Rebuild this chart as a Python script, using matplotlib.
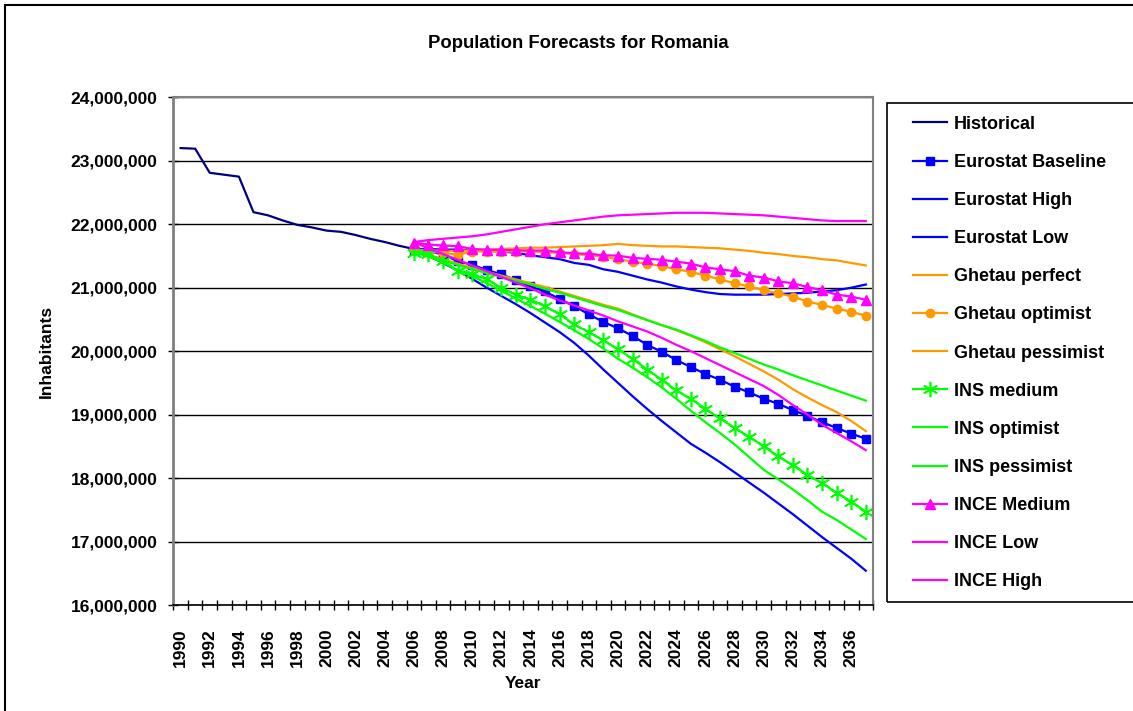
import matplotlib
matplotlib.use("Agg")
import matplotlib.pyplot as plt
from matplotlib.patches import Rectangle
from matplotlib.ticker import FuncFormatter, FixedLocator
import numpy as np

plt.rcParams['font.family'] = ['Liberation Sans', 'DejaVu Sans']
plt.rcParams['font.weight'] = 'bold'

# data (millions of inhabitants)
hist_years = np.arange(1990, 2007)
historical = [23.20, 23.19, 22.81, 22.78, 22.75, 22.19, 22.14, 22.06, 21.99,
              21.95, 21.90, 21.88, 21.83, 21.77, 21.72, 21.66, 21.61]

fc_years = np.arange(2006, 2038)
eurostat_base = [21.60, 21.58, 21.52, 21.42, 21.36, 21.28, 21.21, 21.12, 21.02, 20.94,
                 20.82, 20.71, 20.58, 20.46, 20.36, 20.24, 20.10, 19.99, 19.86, 19.75,
                 19.64, 19.55, 19.44, 19.35, 19.25, 19.17, 19.07, 18.98, 18.88, 18.79,
                 18.70, 18.62]
eurostat_high = [21.61, 21.61, 21.60, 21.60, 21.59, 21.58, 21.57, 21.55, 21.51, 21.48,
                 21.45, 21.39, 21.36, 21.29, 21.25, 21.19, 21.13, 21.08, 21.02, 20.97,
                 20.93, 20.90, 20.89, 20.89, 20.89, 20.90, 20.91, 20.92, 20.94, 20.96,
                 21.00, 21.05]
eurostat_low = [21.60, 21.50, 21.39, 21.27, 21.14, 21.00, 20.87, 20.74, 20.60, 20.45,
                20.30, 20.13, 19.93, 19.71, 19.50, 19.29, 19.09, 18.90, 18.72, 18.54,
                18.40, 18.25, 18.09, 17.93, 17.77, 17.60, 17.43, 17.25, 17.07, 16.90,
                16.73, 16.54]
ghetau_perfect = [21.60, 21.59, 21.58, 21.58, 21.59, 21.60, 21.61, 21.62, 21.63, 21.63,
                  21.64, 21.65, 21.66, 21.67, 21.69, 21.67, 21.66, 21.65, 21.65, 21.64,
                  21.63, 21.62, 21.60, 21.58, 21.55, 21.53, 21.50, 21.48, 21.45, 21.43,
                  21.39, 21.35]
ghetau_opt = [21.60, 21.57, 21.55, 21.52, 21.57, 21.57, 21.57, 21.57, 21.57, 21.56,
              21.55, 21.53, 21.51, 21.49, 21.45, 21.41, 21.38, 21.34, 21.29, 21.25,
              21.19, 21.13, 21.07, 21.02, 20.96, 20.91, 20.86, 20.78, 20.73, 20.67,
              20.62, 20.56]
ghetau_pess = [21.60, 21.52, 21.45, 21.38, 21.31, 21.25, 21.19, 21.13, 21.07, 21.01,
               20.94, 20.87, 20.80, 20.73, 20.67, 20.58, 20.49, 20.41, 20.33, 20.24,
               20.14, 20.03, 19.92, 19.80, 19.68, 19.55, 19.40, 19.27, 19.15, 19.04,
               18.90, 18.74]
ins_medium = [21.55, 21.53, 21.42, 21.27, 21.22, 21.13, 21.00, 20.89, 20.81, 20.71,
              20.58, 20.42, 20.30, 20.17, 20.03, 19.88, 19.71, 19.55, 19.38, 19.25,
              19.09, 18.94, 18.79, 18.65, 18.50, 18.34, 18.20, 18.05, 17.92, 17.77,
              17.63, 17.47]
ins_opt = [21.58, 21.50, 21.43, 21.36, 21.29, 21.23, 21.17, 21.11, 21.05, 20.98,
           20.92, 20.85, 20.78, 20.71, 20.65, 20.57, 20.49, 20.41, 20.34, 20.25,
           20.16, 20.06, 19.97, 19.88, 19.79, 19.71, 19.62, 19.54, 19.46, 19.38,
           19.30, 19.22]
ins_pess = [21.56, 21.49, 21.40, 21.27, 21.18, 21.07, 20.95, 20.83, 20.71, 20.59,
            20.46, 20.33, 20.19, 20.04, 19.88, 19.74, 19.59, 19.43, 19.25, 19.06,
            18.88, 18.71, 18.53, 18.33, 18.13, 17.98, 17.82, 17.65, 17.47, 17.34,
            17.19, 17.04]
ince_medium = [21.71, 21.68, 21.665, 21.655, 21.61, 21.60, 21.595, 21.59, 21.585, 21.585,
               21.56, 21.54, 21.535, 21.51, 21.505, 21.47, 21.455, 21.44, 21.41, 21.38,
               21.32, 21.29, 21.26, 21.19, 21.16, 21.10, 21.07, 21.01, 20.96, 20.89,
               20.86, 20.81]
ince_low = [21.72, 21.62, 21.53, 21.44, 21.35, 21.26, 21.17, 21.08, 20.99, 20.89,
            20.80, 20.72, 20.64, 20.56, 20.47, 20.39, 20.31, 20.21, 20.10, 20.00,
            19.89, 19.78, 19.67, 19.56, 19.45, 19.31, 19.15, 19.00, 18.84, 18.71,
            18.58, 18.44]
ince_high = [21.72, 21.75, 21.77, 21.79, 21.81, 21.84, 21.88, 21.92, 21.96, 22.00,
             22.03, 22.06, 22.09, 22.12, 22.14, 22.15, 22.16, 22.17, 22.18, 22.18,
             22.18, 22.17, 22.16, 22.15, 22.14, 22.12, 22.10, 22.08, 22.06, 22.05,
             22.05, 22.05]

NAVY, BLUE, ORANGE, GREEN, MAGENTA = '#000080', '#0000FF', '#FF9900', '#00FF00', '#FF00FF'
M = 1e6

W, H = 1133, 711
fig = plt.figure(figsize=(W / 100, H / 100), dpi=100)
ax = fig.add_axes([173.3 / W, 1 - 605 / H, (873.1 - 173.3) / W, (605 - 97.3) / H])

lw = 1.6
ax.plot(hist_years, np.array(historical) * M, color=NAVY, lw=lw, label='Historical')
ax.plot(fc_years, np.array(eurostat_base) * M, color=BLUE, lw=lw, marker='s', ms=6,
        label='Eurostat Baseline')
ax.plot(fc_years, np.array(eurostat_high) * M, color=BLUE, lw=lw, label='Eurostat High')
ax.plot(fc_years, np.array(eurostat_low) * M, color=BLUE, lw=lw, label='Eurostat Low')
ax.plot(fc_years, np.array(ghetau_perfect) * M, color=ORANGE, lw=lw, label='Ghetau perfect')
ax.plot(fc_years, np.array(ghetau_opt) * M, color=ORANGE, lw=lw, marker='o', ms=6,
        label='Ghetau optimist')
ax.plot(fc_years, np.array(ghetau_pess) * M, color=ORANGE, lw=lw, label='Ghetau pessimist')
ax.plot(fc_years, np.array(ins_medium) * M, color=GREEN, lw=lw, marker=(6, 2, 0), ms=11,
        mew=1.2, label='INS medium')
ax.plot(fc_years, np.array(ins_opt) * M, color=GREEN, lw=lw, label='INS optimist')
ax.plot(fc_years, np.array(ins_pess) * M, color=GREEN, lw=lw, label='INS pessimist')
ax.plot(fc_years, np.array(ince_medium) * M, color=MAGENTA, lw=lw, marker='^', ms=6.5,
        label='INCE Medium')
ax.plot(fc_years, np.array(ince_low) * M, color=MAGENTA, lw=lw, label='INCE Low')
ax.plot(fc_years, np.array(ince_high) * M, color=MAGENTA, lw=lw, label='INCE High')

# axes
ax.set_xlim(1989.5, 2037.5)
ax.set_ylim(16e6, 24e6)
ax.set_yticks(np.arange(16e6, 24.1e6, 1e6))
ax.yaxis.set_major_formatter(FuncFormatter(lambda v, p: f'{int(round(v)):,}'))
ax.yaxis.grid(True, color='black', lw=1)
ax.set_axisbelow(True)

ax.set_xticks(np.arange(1990, 2037, 2))
ax.set_xticklabels([str(y) for y in range(1990, 2037, 2)], rotation=90)
ax.xaxis.set_minor_locator(FixedLocator(np.arange(1989.5, 2038, 1)))
ax.tick_params(axis='x', which='major', length=0, pad=17, labelsize=12.5)
ax.tick_params(axis='x', which='minor', length=7, direction='inout', width=1)
ax.tick_params(axis='y', length=7, direction='inout', width=1, pad=8, labelsize=12.5,
               colors='black')

for s in ['left', 'top', 'right']:
    ax.spines[s].set_color('#808080')
ax.spines['left'].set_linewidth(2)
ax.spines['top'].set_linewidth(1.5)
ax.spines['right'].set_linewidth(1.5)
ax.spines['bottom'].set_color('black')
ax.spines['bottom'].set_linewidth(1.2)

ax.set_xlabel('Year', fontsize=12.5, fontweight='bold', labelpad=6)
ax.set_ylabel('Inhabitants', fontsize=12.5, fontweight='bold', labelpad=12)

fig.text(578 / W, 1 - 44 / H, 'Population Forecasts for Romania', ha='center', va='center',
         fontsize=13.3, fontweight='bold')

# legend: entries without frame, box drawn separately so it runs off the right edge
fig.legend(loc='upper left', bbox_to_anchor=(913 / W, 1 - 115.8 / H), frameon=False,
           fontsize=13, handlelength=1.9, handletextpad=0.35, labelspacing=1.17,
           borderpad=0, borderaxespad=0)
fig.patches.append(Rectangle((887 / W, 1 - 602 / H), 260 / W, (602 - 103) / H,
                             transform=fig.transFigure, fill=False, ec='black', lw=1.2))

# outer chart border
fig.patches.append(Rectangle((5 / W, -0.1), 1.2, 1.1 - 5 / H, transform=fig.transFigure,
                             fill=False, ec='black', lw=1.5))

fig.savefig('out.png', dpi=100)
